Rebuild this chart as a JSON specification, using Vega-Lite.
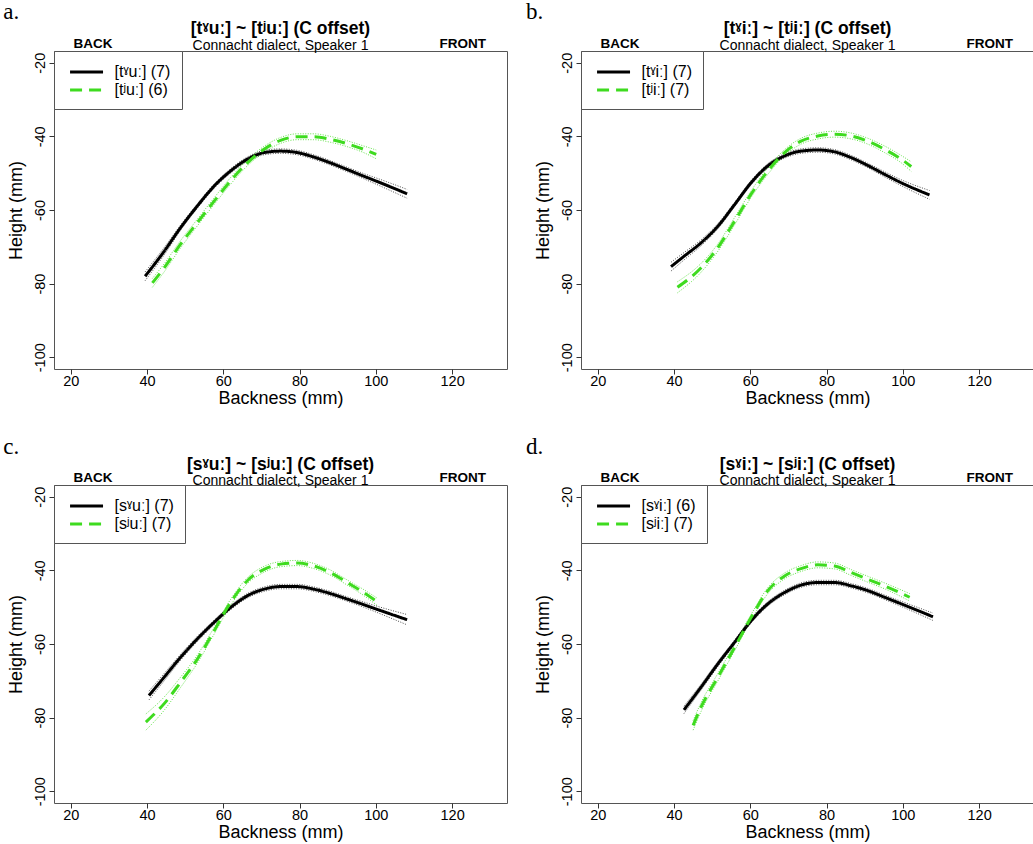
{
"$schema": "https://vega.github.io/schema/vega-lite/v6.json",
"padding": {"left": 2, "top": 0, "right": 0, "bottom": 0},
"autosize": {"type": "pad"},
"background": "white",
"config": {
  "font": "Liberation Sans",
  "view": {"stroke": "#555", "strokeWidth": 1},
  "axis": {"domain": false, "grid": false, "tickColor": "#333", "tickSize": 5, "labelFontSize": 14.5, "titleFontSize": 18, "titleFontWeight": "normal", "labelColor": "black", "titleColor": "black", "labelFont": "Liberation Sans", "titleFont": "Liberation Sans"},
  "title": {"fontSize": 17.5, "fontWeight": "bold", "font": "Liberation Sans", "subtitleFont": "Liberation Sans", "subtitleFontSize": 14, "anchor": "middle", "offset": -52, "subtitlePadding": 1, "color": "black", "subtitleColor": "black"},
  "legend": {"orient": "top-left", "offset": 0, "padding": 11, "symbolType": "M-0.6,0H3.4", "symbolSize": 272, "symbolStrokeWidth": 3, "labelFontSize": 16, "labelFont": "Liberation Sans", "labelOffset": 29.5, "strokeColor": "#555", "fillColor": "white", "rowPadding": 0, "labelColor": "black"}
},
"datasets": {
  "a": [
    {"s":"[tˠuː] (7)","x":39.5,"y":-78.0,"lo":-79.2,"hi":-76.8},
    {"s":"[tˠuː] (7)","x":44.5,"y":-71.2,"lo":-72.2,"hi":-70.2},
    {"s":"[tˠuː] (7)","x":48.8,"y":-64.8,"lo":-65.5,"hi":-64.1},
    {"s":"[tˠuː] (7)","x":53.2,"y":-58.9,"lo":-59.5,"hi":-58.3},
    {"s":"[tˠuː] (7)","x":57.6,"y":-53.5,"lo":-54.1,"hi":-52.9},
    {"s":"[tˠuː] (7)","x":61.9,"y":-49.4,"lo":-50.0,"hi":-48.8},
    {"s":"[tˠuː] (7)","x":66.3,"y":-46.2,"lo":-46.8,"hi":-45.6},
    {"s":"[tˠuː] (7)","x":70.7,"y":-44.4,"lo":-45.0,"hi":-43.8},
    {"s":"[tˠuː] (7)","x":75.0,"y":-44.0,"lo":-44.6,"hi":-43.4},
    {"s":"[tˠuː] (7)","x":79.4,"y":-44.4,"lo":-45.0,"hi":-43.8},
    {"s":"[tˠuː] (7)","x":83.7,"y":-45.6,"lo":-46.2,"hi":-45.0},
    {"s":"[tˠuː] (7)","x":88.1,"y":-47.2,"lo":-47.8,"hi":-46.6},
    {"s":"[tˠuː] (7)","x":92.5,"y":-49.0,"lo":-49.6,"hi":-48.4},
    {"s":"[tˠuː] (7)","x":96.8,"y":-50.8,"lo":-51.5,"hi":-50.1},
    {"s":"[tˠuː] (7)","x":101.2,"y":-52.6,"lo":-53.5,"hi":-51.7},
    {"s":"[tˠuː] (7)","x":108.2,"y":-55.6,"lo":-56.8,"hi":-54.4},
    {"s":"[tʲuː] (6)","x":41.4,"y":-79.8,"lo":-81.0,"hi":-78.6},
    {"s":"[tʲuː] (6)","x":44.5,"y":-75.7,"lo":-76.8,"hi":-74.6},
    {"s":"[tʲuː] (6)","x":48.8,"y":-69.3,"lo":-70.3,"hi":-68.3},
    {"s":"[tʲuː] (6)","x":53.2,"y":-63.4,"lo":-64.3,"hi":-62.5},
    {"s":"[tʲuː] (6)","x":57.6,"y":-57.6,"lo":-58.5,"hi":-56.7},
    {"s":"[tʲuː] (6)","x":61.9,"y":-52.1,"lo":-53.0,"hi":-51.2},
    {"s":"[tʲuː] (6)","x":66.3,"y":-47.2,"lo":-48.0,"hi":-46.4},
    {"s":"[tʲuː] (6)","x":70.7,"y":-43.5,"lo":-44.3,"hi":-42.7},
    {"s":"[tʲuː] (6)","x":75.0,"y":-41.1,"lo":-41.9,"hi":-40.3},
    {"s":"[tʲuː] (6)","x":79.4,"y":-40.1,"lo":-40.9,"hi":-39.3},
    {"s":"[tʲuː] (6)","x":83.7,"y":-40.1,"lo":-40.9,"hi":-39.3},
    {"s":"[tʲuː] (6)","x":88.1,"y":-40.8,"lo":-41.6,"hi":-40.0},
    {"s":"[tʲuː] (6)","x":92.5,"y":-42.0,"lo":-42.8,"hi":-41.2},
    {"s":"[tʲuː] (6)","x":96.8,"y":-43.5,"lo":-44.4,"hi":-42.6},
    {"s":"[tʲuː] (6)","x":100.1,"y":-44.9,"lo":-46.1,"hi":-43.7}
  ],
  "b": [
    {"s":"[tˠiː] (7)","x":39.2,"y":-75.4,"lo":-76.6,"hi":-74.2},
    {"s":"[tˠiː] (7)","x":42.7,"y":-72.5,"lo":-73.5,"hi":-71.5},
    {"s":"[tˠiː] (7)","x":47.1,"y":-68.9,"lo":-69.7,"hi":-68.1},
    {"s":"[tˠiː] (7)","x":51.5,"y":-64.4,"lo":-65.1,"hi":-63.7},
    {"s":"[tˠiː] (7)","x":55.9,"y":-58.5,"lo":-59.1,"hi":-57.9},
    {"s":"[tˠiː] (7)","x":60.2,"y":-52.6,"lo":-53.2,"hi":-52.0},
    {"s":"[tˠiː] (7)","x":64.6,"y":-48.0,"lo":-48.6,"hi":-47.4},
    {"s":"[tˠiː] (7)","x":69.0,"y":-45.3,"lo":-45.9,"hi":-44.7},
    {"s":"[tˠiː] (7)","x":73.3,"y":-44.0,"lo":-44.6,"hi":-43.4},
    {"s":"[tˠiː] (7)","x":77.7,"y":-43.7,"lo":-44.3,"hi":-43.1},
    {"s":"[tˠiː] (7)","x":82.1,"y":-44.2,"lo":-44.8,"hi":-43.6},
    {"s":"[tˠiː] (7)","x":86.5,"y":-45.8,"lo":-46.4,"hi":-45.2},
    {"s":"[tˠiː] (7)","x":90.8,"y":-47.9,"lo":-48.5,"hi":-47.3},
    {"s":"[tˠiː] (7)","x":95.2,"y":-50.3,"lo":-51.0,"hi":-49.6},
    {"s":"[tˠiː] (7)","x":99.6,"y":-52.6,"lo":-53.4,"hi":-51.8},
    {"s":"[tˠiː] (7)","x":107.0,"y":-55.9,"lo":-57.1,"hi":-54.7},
    {"s":"[tʲiː] (7)","x":40.9,"y":-81.0,"lo":-82.5,"hi":-79.5},
    {"s":"[tʲiː] (7)","x":47.1,"y":-75.7,"lo":-76.9,"hi":-74.5},
    {"s":"[tʲiː] (7)","x":51.5,"y":-70.2,"lo":-71.2,"hi":-69.2},
    {"s":"[tʲiː] (7)","x":55.9,"y":-63.0,"lo":-64.0,"hi":-62.0},
    {"s":"[tʲiː] (7)","x":60.2,"y":-55.7,"lo":-56.6,"hi":-54.8},
    {"s":"[tʲiː] (7)","x":64.6,"y":-49.4,"lo":-50.3,"hi":-48.5},
    {"s":"[tʲiː] (7)","x":69.0,"y":-44.4,"lo":-45.2,"hi":-43.6},
    {"s":"[tʲiː] (7)","x":73.3,"y":-41.3,"lo":-42.1,"hi":-40.5},
    {"s":"[tʲiː] (7)","x":77.7,"y":-39.9,"lo":-40.7,"hi":-39.1},
    {"s":"[tʲiː] (7)","x":82.1,"y":-39.4,"lo":-40.2,"hi":-38.6},
    {"s":"[tʲiː] (7)","x":86.5,"y":-39.9,"lo":-40.7,"hi":-39.1},
    {"s":"[tʲiː] (7)","x":90.8,"y":-41.3,"lo":-42.1,"hi":-40.5},
    {"s":"[tʲiː] (7)","x":95.2,"y":-43.5,"lo":-44.4,"hi":-42.6},
    {"s":"[tʲiː] (7)","x":99.6,"y":-46.2,"lo":-47.2,"hi":-45.2},
    {"s":"[tʲiː] (7)","x":102.2,"y":-48.2,"lo":-49.5,"hi":-46.9}
  ],
  "c": [
    {"s":"[sˠuː] (7)","x":40.5,"y":-74.0,"lo":-75.2,"hi":-72.8},
    {"s":"[sˠuː] (7)","x":44.5,"y":-69.0,"lo":-70.0,"hi":-68.0},
    {"s":"[sˠuː] (7)","x":48.8,"y":-63.6,"lo":-64.4,"hi":-62.8},
    {"s":"[sˠuː] (7)","x":53.2,"y":-58.6,"lo":-59.3,"hi":-57.9},
    {"s":"[sˠuː] (7)","x":57.6,"y":-54.1,"lo":-54.7,"hi":-53.5},
    {"s":"[sˠuː] (7)","x":61.9,"y":-50.1,"lo":-50.7,"hi":-49.5},
    {"s":"[sˠuː] (7)","x":66.3,"y":-46.9,"lo":-47.5,"hi":-46.3},
    {"s":"[sˠuː] (7)","x":70.7,"y":-45.1,"lo":-45.7,"hi":-44.5},
    {"s":"[sˠuː] (7)","x":75.0,"y":-44.4,"lo":-45.0,"hi":-43.8},
    {"s":"[sˠuː] (7)","x":79.4,"y":-44.4,"lo":-45.0,"hi":-43.8},
    {"s":"[sˠuː] (7)","x":83.7,"y":-45.1,"lo":-45.7,"hi":-44.5},
    {"s":"[sˠuː] (7)","x":88.1,"y":-46.3,"lo":-46.9,"hi":-45.7},
    {"s":"[sˠuː] (7)","x":92.5,"y":-47.8,"lo":-48.4,"hi":-47.2},
    {"s":"[sˠuː] (7)","x":96.8,"y":-49.3,"lo":-50.0,"hi":-48.6},
    {"s":"[sˠuː] (7)","x":101.2,"y":-50.9,"lo":-51.8,"hi":-50.0},
    {"s":"[sˠuː] (7)","x":108.2,"y":-53.4,"lo":-54.8,"hi":-52.0},
    {"s":"[sʲuː] (7)","x":39.7,"y":-81.2,"lo":-83.4,"hi":-79.0},
    {"s":"[sʲuː] (7)","x":44.5,"y":-76.2,"lo":-78.0,"hi":-74.4},
    {"s":"[sʲuː] (7)","x":48.8,"y":-70.4,"lo":-71.8,"hi":-69.0},
    {"s":"[sʲuː] (7)","x":53.2,"y":-64.1,"lo":-65.2,"hi":-63.0},
    {"s":"[sʲuː] (7)","x":57.6,"y":-56.4,"lo":-57.3,"hi":-55.5},
    {"s":"[sʲuː] (7)","x":61.9,"y":-48.7,"lo":-49.5,"hi":-47.9},
    {"s":"[sʲuː] (7)","x":66.3,"y":-42.8,"lo":-43.6,"hi":-42.0},
    {"s":"[sʲuː] (7)","x":70.7,"y":-39.7,"lo":-40.5,"hi":-38.9},
    {"s":"[sʲuː] (7)","x":75.0,"y":-38.3,"lo":-39.0,"hi":-37.6},
    {"s":"[sʲuː] (7)","x":79.4,"y":-38.0,"lo":-38.7,"hi":-37.3},
    {"s":"[sʲuː] (7)","x":83.7,"y":-38.8,"lo":-39.5,"hi":-38.1},
    {"s":"[sʲuː] (7)","x":88.1,"y":-40.6,"lo":-41.3,"hi":-39.9},
    {"s":"[sʲuː] (7)","x":92.5,"y":-43.3,"lo":-44.0,"hi":-42.6},
    {"s":"[sʲuː] (7)","x":96.8,"y":-46.0,"lo":-46.8,"hi":-45.2},
    {"s":"[sʲuː] (7)","x":100.3,"y":-48.5,"lo":-49.5,"hi":-47.5}
  ],
  "d": [
    {"s":"[sˠiː] (6)","x":42.6,"y":-77.9,"lo":-78.9,"hi":-76.9},
    {"s":"[sˠiː] (6)","x":47.1,"y":-71.7,"lo":-72.5,"hi":-70.9},
    {"s":"[sˠiː] (6)","x":51.5,"y":-65.4,"lo":-66.1,"hi":-64.7},
    {"s":"[sˠiː] (6)","x":55.9,"y":-59.5,"lo":-60.1,"hi":-58.9},
    {"s":"[sˠiː] (6)","x":60.2,"y":-53.7,"lo":-54.3,"hi":-53.1},
    {"s":"[sˠiː] (6)","x":64.6,"y":-49.1,"lo":-49.7,"hi":-48.5},
    {"s":"[sˠiː] (6)","x":69.0,"y":-46.0,"lo":-46.6,"hi":-45.4},
    {"s":"[sˠiː] (6)","x":73.3,"y":-44.0,"lo":-44.6,"hi":-43.4},
    {"s":"[sˠiː] (6)","x":77.7,"y":-43.3,"lo":-43.9,"hi":-42.7},
    {"s":"[sˠiː] (6)","x":82.1,"y":-43.3,"lo":-43.9,"hi":-42.7},
    {"s":"[sˠiː] (6)","x":86.5,"y":-44.2,"lo":-44.8,"hi":-43.6},
    {"s":"[sˠiː] (6)","x":90.8,"y":-45.5,"lo":-46.1,"hi":-44.9},
    {"s":"[sˠiː] (6)","x":95.2,"y":-47.3,"lo":-47.9,"hi":-46.7},
    {"s":"[sˠiː] (6)","x":99.6,"y":-49.1,"lo":-49.8,"hi":-48.4},
    {"s":"[sˠiː] (6)","x":107.9,"y":-52.6,"lo":-53.6,"hi":-51.6},
    {"s":"[sʲiː] (7)","x":45.0,"y":-82.1,"lo":-83.4,"hi":-80.8},
    {"s":"[sʲiː] (7)","x":47.1,"y":-77.1,"lo":-78.3,"hi":-75.9},
    {"s":"[sʲiː] (7)","x":51.5,"y":-69.0,"lo":-70.0,"hi":-68.0},
    {"s":"[sʲiː] (7)","x":55.9,"y":-60.9,"lo":-61.8,"hi":-60.0},
    {"s":"[sʲiː] (7)","x":60.2,"y":-52.8,"lo":-53.6,"hi":-52.0},
    {"s":"[sʲiː] (7)","x":64.6,"y":-45.5,"lo":-46.3,"hi":-44.7},
    {"s":"[sʲiː] (7)","x":69.0,"y":-41.5,"lo":-42.3,"hi":-40.7},
    {"s":"[sʲiː] (7)","x":73.3,"y":-39.5,"lo":-40.3,"hi":-38.7},
    {"s":"[sʲiː] (7)","x":77.7,"y":-38.5,"lo":-39.3,"hi":-37.7},
    {"s":"[sʲiː] (7)","x":82.1,"y":-38.8,"lo":-39.6,"hi":-38.0},
    {"s":"[sʲiː] (7)","x":86.5,"y":-40.6,"lo":-41.4,"hi":-39.8},
    {"s":"[sʲiː] (7)","x":90.8,"y":-42.4,"lo":-43.2,"hi":-41.6},
    {"s":"[sʲiː] (7)","x":95.2,"y":-44.2,"lo":-45.0,"hi":-43.4},
    {"s":"[sʲiː] (7)","x":101.8,"y":-47.3,"lo":-48.3,"hi":-46.3}
  ]
},
"columns": 2,
"spacing": {"row": 116, "column": 74},
"bounds": "flush",
"resolve": {"scale": {"color": "independent", "strokeDash": "independent", "stroke": "independent"}},
"concat": [
  {
    "width": 453, "height": 318,
    "title": {"text": "[tˠuː] ~ [tʲuː] (C offset)", "subtitle": "Connacht dialect, Speaker 1"},
    "data": {"name": "a"},
    "layer": [
      {"mark": {"type": "line", "strokeDash": [1, 1.5], "strokeWidth": 1, "interpolate": "monotone", "opacity": 0.8},
       "encoding": {
         "x": {"field": "x", "type": "quantitative", "title": "Backness (mm)", "scale": {"domain": [15.6, 134.4], "nice": false, "zero": false}, "axis": {"values": [20, 40, 60, 80, 100, 120], "labelPadding": 0, "titlePadding": 1.5}},
         "y": {"field": "lo", "type": "quantitative", "title": "Height (mm)", "scale": {"domain": [-103.2, -16.8], "nice": false, "zero": false}, "axis": {"values": [-20, -40, -60, -80, -100], "labelAngle": 270, "labelAlign": "center", "labelBaseline": "alphabetic", "labelPadding": 4.5, "titlePadding": 7, "labelExpr": "datum.value < 0 ? '-' + abs(datum.value) : '' + datum.value"}},
         "stroke": {"field": "s", "type": "nominal", "scale": {"domain": ["[tʲuː] (6)", "[tˠuː] (7)"], "range": ["#3EDB1F", "#222222"]}, "legend": null}
       }},
      {"mark": {"type": "line", "strokeDash": [1, 1.5], "strokeWidth": 1, "interpolate": "monotone", "opacity": 0.8},
       "encoding": {
         "x": {"field": "x", "type": "quantitative", "title": "Backness (mm)", "scale": {"domain": [15.6, 134.4], "nice": false, "zero": false}},
         "y": {"field": "hi", "type": "quantitative", "title": "Height (mm)", "scale": {"domain": [-103.2, -16.8], "nice": false, "zero": false}},
         "stroke": {"field": "s", "type": "nominal", "scale": {"domain": ["[tʲuː] (6)", "[tˠuː] (7)"], "range": ["#3EDB1F", "#222222"]}, "legend": null}
       }},
      {"mark": {"type": "line", "strokeWidth": 3, "interpolate": "monotone"},
       "encoding": {
         "x": {"field": "x", "type": "quantitative", "title": "Backness (mm)", "scale": {"domain": [15.6, 134.4], "nice": false, "zero": false}},
         "y": {"field": "y", "type": "quantitative", "title": "Height (mm)", "scale": {"domain": [-103.2, -16.8], "nice": false, "zero": false}},
         "color": {"field": "s", "type": "nominal", "scale": {"domain": ["[tˠuː] (7)", "[tʲuː] (6)"], "range": ["black", "#3EDB1F"]}, "legend": {"title": null}},
         "strokeDash": {"field": "s", "type": "nominal", "scale": {"domain": ["[tˠuː] (7)", "[tʲuː] (6)"], "range": [[1, 0], [12, 7]]}, "legend": {"title": null}}
       }},
      {"data": {"values": [{"t": "BACK", "x": 25.8, "y": -15.9}, {"t": "FRONT", "x": 122.8, "y": -15.9}]},
       "mark": {"type": "text", "fontWeight": "bold", "fontSize": 13.5, "align": "center", "baseline": "alphabetic", "color": "black"},
       "encoding": {
         "x": {"field": "x", "type": "quantitative", "title": "Backness (mm)", "scale": {"domain": [15.6, 134.4], "nice": false, "zero": false}},
         "y": {"field": "y", "type": "quantitative", "title": "Height (mm)", "scale": {"domain": [-103.2, -16.8], "nice": false, "zero": false}},
         "text": {"field": "t"}
       }},
      {"data": {"values": [{"t": "a.", "x": 2.3, "y": -8.1}]},
       "mark": {"type": "text", "font": "Liberation Serif", "fontSize": 23, "align": "left", "baseline": "alphabetic", "color": "black"},
       "encoding": {
         "x": {"field": "x", "type": "quantitative", "title": "Backness (mm)", "scale": {"domain": [15.6, 134.4], "nice": false, "zero": false}},
         "y": {"field": "y", "type": "quantitative", "title": "Height (mm)", "scale": {"domain": [-103.2, -16.8], "nice": false, "zero": false}},
         "text": {"field": "t"}
       }}
    ]
  },
  {
    "width": 453, "height": 318,
    "title": {"text": "[tˠiː] ~ [tʲiː] (C offset)", "subtitle": "Connacht dialect, Speaker 1"},
    "data": {"name": "b"},
    "layer": [
      {"mark": {"type": "line", "strokeDash": [1, 1.5], "strokeWidth": 1, "interpolate": "monotone", "opacity": 0.8},
       "encoding": {
         "x": {"field": "x", "type": "quantitative", "title": "Backness (mm)", "scale": {"domain": [15.6, 134.4], "nice": false, "zero": false}, "axis": {"values": [20, 40, 60, 80, 100, 120], "labelPadding": 0, "titlePadding": 1.5}},
         "y": {"field": "lo", "type": "quantitative", "title": "Height (mm)", "scale": {"domain": [-103.2, -16.8], "nice": false, "zero": false}, "axis": {"values": [-20, -40, -60, -80, -100], "labelAngle": 270, "labelAlign": "center", "labelBaseline": "alphabetic", "labelPadding": 4.5, "titlePadding": 7, "labelExpr": "datum.value < 0 ? '-' + abs(datum.value) : '' + datum.value"}},
         "stroke": {"field": "s", "type": "nominal", "scale": {"domain": ["[tʲiː] (7)", "[tˠiː] (7)"], "range": ["#3EDB1F", "#222222"]}, "legend": null}
       }},
      {"mark": {"type": "line", "strokeDash": [1, 1.5], "strokeWidth": 1, "interpolate": "monotone", "opacity": 0.8},
       "encoding": {
         "x": {"field": "x", "type": "quantitative", "title": "Backness (mm)", "scale": {"domain": [15.6, 134.4], "nice": false, "zero": false}},
         "y": {"field": "hi", "type": "quantitative", "title": "Height (mm)", "scale": {"domain": [-103.2, -16.8], "nice": false, "zero": false}},
         "stroke": {"field": "s", "type": "nominal", "scale": {"domain": ["[tʲiː] (7)", "[tˠiː] (7)"], "range": ["#3EDB1F", "#222222"]}, "legend": null}
       }},
      {"mark": {"type": "line", "strokeWidth": 3, "interpolate": "monotone"},
       "encoding": {
         "x": {"field": "x", "type": "quantitative", "title": "Backness (mm)", "scale": {"domain": [15.6, 134.4], "nice": false, "zero": false}},
         "y": {"field": "y", "type": "quantitative", "title": "Height (mm)", "scale": {"domain": [-103.2, -16.8], "nice": false, "zero": false}},
         "color": {"field": "s", "type": "nominal", "scale": {"domain": ["[tˠiː] (7)", "[tʲiː] (7)"], "range": ["black", "#3EDB1F"]}, "legend": {"title": null}},
         "strokeDash": {"field": "s", "type": "nominal", "scale": {"domain": ["[tˠiː] (7)", "[tʲiː] (7)"], "range": [[1, 0], [12, 7]]}, "legend": {"title": null}}
       }},
      {"data": {"values": [{"t": "BACK", "x": 25.8, "y": -15.9}, {"t": "FRONT", "x": 122.8, "y": -15.9}]},
       "mark": {"type": "text", "fontWeight": "bold", "fontSize": 13.5, "align": "center", "baseline": "alphabetic", "color": "black"},
       "encoding": {
         "x": {"field": "x", "type": "quantitative", "title": "Backness (mm)", "scale": {"domain": [15.6, 134.4], "nice": false, "zero": false}},
         "y": {"field": "y", "type": "quantitative", "title": "Height (mm)", "scale": {"domain": [-103.2, -16.8], "nice": false, "zero": false}},
         "text": {"field": "t"}
       }},
      {"data": {"values": [{"t": "b.", "x": 1.2, "y": -8.1}]},
       "mark": {"type": "text", "font": "Liberation Serif", "fontSize": 23, "align": "left", "baseline": "alphabetic", "color": "black"},
       "encoding": {
         "x": {"field": "x", "type": "quantitative", "title": "Backness (mm)", "scale": {"domain": [15.6, 134.4], "nice": false, "zero": false}},
         "y": {"field": "y", "type": "quantitative", "title": "Height (mm)", "scale": {"domain": [-103.2, -16.8], "nice": false, "zero": false}},
         "text": {"field": "t"}
       }}
    ]
  },
  {
    "width": 453, "height": 318,
    "title": {"text": "[sˠuː] ~ [sʲuː] (C offset)", "subtitle": "Connacht dialect, Speaker 1"},
    "data": {"name": "c"},
    "layer": [
      {"mark": {"type": "line", "strokeDash": [1, 1.5], "strokeWidth": 1, "interpolate": "monotone", "opacity": 0.8},
       "encoding": {
         "x": {"field": "x", "type": "quantitative", "title": "Backness (mm)", "scale": {"domain": [15.6, 134.4], "nice": false, "zero": false}, "axis": {"values": [20, 40, 60, 80, 100, 120], "labelPadding": 0, "titlePadding": 1.5}},
         "y": {"field": "lo", "type": "quantitative", "title": "Height (mm)", "scale": {"domain": [-103.2, -16.8], "nice": false, "zero": false}, "axis": {"values": [-20, -40, -60, -80, -100], "labelAngle": 270, "labelAlign": "center", "labelBaseline": "alphabetic", "labelPadding": 4.5, "titlePadding": 7, "labelExpr": "datum.value < 0 ? '-' + abs(datum.value) : '' + datum.value"}},
         "stroke": {"field": "s", "type": "nominal", "scale": {"domain": ["[sʲuː] (7)", "[sˠuː] (7)"], "range": ["#3EDB1F", "#222222"]}, "legend": null}
       }},
      {"mark": {"type": "line", "strokeDash": [1, 1.5], "strokeWidth": 1, "interpolate": "monotone", "opacity": 0.8},
       "encoding": {
         "x": {"field": "x", "type": "quantitative", "title": "Backness (mm)", "scale": {"domain": [15.6, 134.4], "nice": false, "zero": false}},
         "y": {"field": "hi", "type": "quantitative", "title": "Height (mm)", "scale": {"domain": [-103.2, -16.8], "nice": false, "zero": false}},
         "stroke": {"field": "s", "type": "nominal", "scale": {"domain": ["[sʲuː] (7)", "[sˠuː] (7)"], "range": ["#3EDB1F", "#222222"]}, "legend": null}
       }},
      {"mark": {"type": "line", "strokeWidth": 3, "interpolate": "monotone"},
       "encoding": {
         "x": {"field": "x", "type": "quantitative", "title": "Backness (mm)", "scale": {"domain": [15.6, 134.4], "nice": false, "zero": false}},
         "y": {"field": "y", "type": "quantitative", "title": "Height (mm)", "scale": {"domain": [-103.2, -16.8], "nice": false, "zero": false}},
         "color": {"field": "s", "type": "nominal", "scale": {"domain": ["[sˠuː] (7)", "[sʲuː] (7)"], "range": ["black", "#3EDB1F"]}, "legend": {"title": null}},
         "strokeDash": {"field": "s", "type": "nominal", "scale": {"domain": ["[sˠuː] (7)", "[sʲuː] (7)"], "range": [[1, 0], [12, 7]]}, "legend": {"title": null}}
       }},
      {"data": {"values": [{"t": "BACK", "x": 25.8, "y": -15.9}, {"t": "FRONT", "x": 122.8, "y": -15.9}]},
       "mark": {"type": "text", "fontWeight": "bold", "fontSize": 13.5, "align": "center", "baseline": "alphabetic", "color": "black"},
       "encoding": {
         "x": {"field": "x", "type": "quantitative", "title": "Backness (mm)", "scale": {"domain": [15.6, 134.4], "nice": false, "zero": false}},
         "y": {"field": "y", "type": "quantitative", "title": "Height (mm)", "scale": {"domain": [-103.2, -16.8], "nice": false, "zero": false}},
         "text": {"field": "t"}
       }},
      {"data": {"values": [{"t": "c.", "x": 2.3, "y": -8.4}]},
       "mark": {"type": "text", "font": "Liberation Serif", "fontSize": 23, "align": "left", "baseline": "alphabetic", "color": "black"},
       "encoding": {
         "x": {"field": "x", "type": "quantitative", "title": "Backness (mm)", "scale": {"domain": [15.6, 134.4], "nice": false, "zero": false}},
         "y": {"field": "y", "type": "quantitative", "title": "Height (mm)", "scale": {"domain": [-103.2, -16.8], "nice": false, "zero": false}},
         "text": {"field": "t"}
       }}
    ]
  },
  {
    "width": 453, "height": 318,
    "title": {"text": "[sˠiː] ~ [sʲiː] (C offset)", "subtitle": "Connacht dialect, Speaker 1"},
    "data": {"name": "d"},
    "layer": [
      {"mark": {"type": "line", "strokeDash": [1, 1.5], "strokeWidth": 1, "interpolate": "monotone", "opacity": 0.8},
       "encoding": {
         "x": {"field": "x", "type": "quantitative", "title": "Backness (mm)", "scale": {"domain": [15.6, 134.4], "nice": false, "zero": false}, "axis": {"values": [20, 40, 60, 80, 100, 120], "labelPadding": 0, "titlePadding": 1.5}},
         "y": {"field": "lo", "type": "quantitative", "title": "Height (mm)", "scale": {"domain": [-103.2, -16.8], "nice": false, "zero": false}, "axis": {"values": [-20, -40, -60, -80, -100], "labelAngle": 270, "labelAlign": "center", "labelBaseline": "alphabetic", "labelPadding": 4.5, "titlePadding": 7, "labelExpr": "datum.value < 0 ? '-' + abs(datum.value) : '' + datum.value"}},
         "stroke": {"field": "s", "type": "nominal", "scale": {"domain": ["[sʲiː] (7)", "[sˠiː] (6)"], "range": ["#3EDB1F", "#222222"]}, "legend": null}
       }},
      {"mark": {"type": "line", "strokeDash": [1, 1.5], "strokeWidth": 1, "interpolate": "monotone", "opacity": 0.8},
       "encoding": {
         "x": {"field": "x", "type": "quantitative", "title": "Backness (mm)", "scale": {"domain": [15.6, 134.4], "nice": false, "zero": false}},
         "y": {"field": "hi", "type": "quantitative", "title": "Height (mm)", "scale": {"domain": [-103.2, -16.8], "nice": false, "zero": false}},
         "stroke": {"field": "s", "type": "nominal", "scale": {"domain": ["[sʲiː] (7)", "[sˠiː] (6)"], "range": ["#3EDB1F", "#222222"]}, "legend": null}
       }},
      {"mark": {"type": "line", "strokeWidth": 3, "interpolate": "monotone"},
       "encoding": {
         "x": {"field": "x", "type": "quantitative", "title": "Backness (mm)", "scale": {"domain": [15.6, 134.4], "nice": false, "zero": false}},
         "y": {"field": "y", "type": "quantitative", "title": "Height (mm)", "scale": {"domain": [-103.2, -16.8], "nice": false, "zero": false}},
         "color": {"field": "s", "type": "nominal", "scale": {"domain": ["[sˠiː] (6)", "[sʲiː] (7)"], "range": ["black", "#3EDB1F"]}, "legend": {"title": null}},
         "strokeDash": {"field": "s", "type": "nominal", "scale": {"domain": ["[sˠiː] (6)", "[sʲiː] (7)"], "range": [[1, 0], [12, 7]]}, "legend": {"title": null}}
       }},
      {"data": {"values": [{"t": "BACK", "x": 25.8, "y": -15.9}, {"t": "FRONT", "x": 122.8, "y": -15.9}]},
       "mark": {"type": "text", "fontWeight": "bold", "fontSize": 13.5, "align": "center", "baseline": "alphabetic", "color": "black"},
       "encoding": {
         "x": {"field": "x", "type": "quantitative", "title": "Backness (mm)", "scale": {"domain": [15.6, 134.4], "nice": false, "zero": false}},
         "y": {"field": "y", "type": "quantitative", "title": "Height (mm)", "scale": {"domain": [-103.2, -16.8], "nice": false, "zero": false}},
         "text": {"field": "t"}
       }},
      {"data": {"values": [{"t": "d.", "x": 1.2, "y": -8.4}]},
       "mark": {"type": "text", "font": "Liberation Serif", "fontSize": 23, "align": "left", "baseline": "alphabetic", "color": "black"},
       "encoding": {
         "x": {"field": "x", "type": "quantitative", "title": "Backness (mm)", "scale": {"domain": [15.6, 134.4], "nice": false, "zero": false}},
         "y": {"field": "y", "type": "quantitative", "title": "Height (mm)", "scale": {"domain": [-103.2, -16.8], "nice": false, "zero": false}},
         "text": {"field": "t"}
       }}
    ]
  }
]
}
